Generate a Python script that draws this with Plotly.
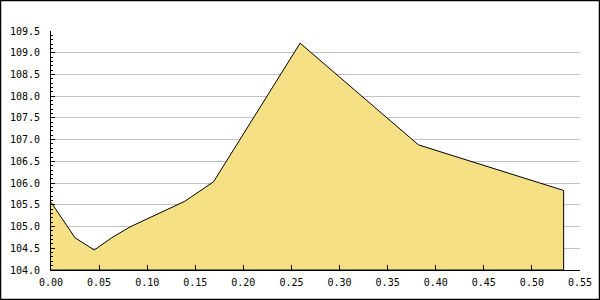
import plotly.graph_objects as go

x_vals = [0.0, 0.025, 0.045, 0.063, 0.082, 0.139, 0.169, 0.259, 0.382, 0.533]
y_vals = [105.56, 104.74, 104.46, 104.74, 104.99, 105.58, 106.03, 109.22, 106.88, 105.83]

y_min, y_max = 104.0, 109.5
x_min, x_max = 0.0, 0.55

W, H = 600, 300
L, R, T, B = 51, 20, 31, 30
pw, ph = W - L - R, H - T - B

poly_x = x_vals + [x_vals[-1], x_vals[0]]
poly_y = y_vals + [y_min, y_min]

fig = go.Figure()
fig.add_trace(go.Scatter(
    x=poly_x, y=poly_y, mode="lines", fill="toself",
    fillcolor="#F6E086", line=dict(color="black", width=1),
    hoverinfo="skip", showlegend=False,
))

font = dict(family="DejaVu Sans Mono", size=10, color="black")

fig.update_layout(
    width=W, height=H,
    margin=dict(l=L, r=R, t=T, b=B, pad=0, autoexpand=False),
    paper_bgcolor="white", plot_bgcolor="white",
    font=font,
    xaxis=dict(
        range=[x_min, x_max], dtick=0.05, tick0=0, tickformat=".2f",
        showgrid=False, zeroline=False, automargin=False,
        showline=True, linecolor="black", linewidth=1,
        ticks="inside", ticklen=5, tickcolor="black", tickwidth=1,
        ticklabelstandoff=3,
    ),
    yaxis=dict(
        range=[y_min, y_max], dtick=0.5, tick0=104, tickformat=".1f",
        showgrid=True, gridcolor="#c0c0c0", gridwidth=1, zeroline=False,
        automargin=False,
        showline=True, linecolor="black", linewidth=1,
        ticks="inside", ticklen=4, tickcolor="black", tickwidth=1,
        minor=dict(dtick=0.1, ticks="inside", ticklen=2, tickcolor="black", showgrid=False),
        ticklabelstandoff=8,
    ),
    shapes=[dict(
        type="rect", xref="paper", yref="paper",
        x0=-(L - 0.5) / pw, x1=1 + (R - 0.5) / pw,
        y0=-(B - 0.5) / ph, y1=1 + (T - 0.5) / ph,
        line=dict(color="black", width=1.5), fillcolor="rgba(0,0,0,0)",
        layer="above",
    )],
)

fig.write_html("out.html")
